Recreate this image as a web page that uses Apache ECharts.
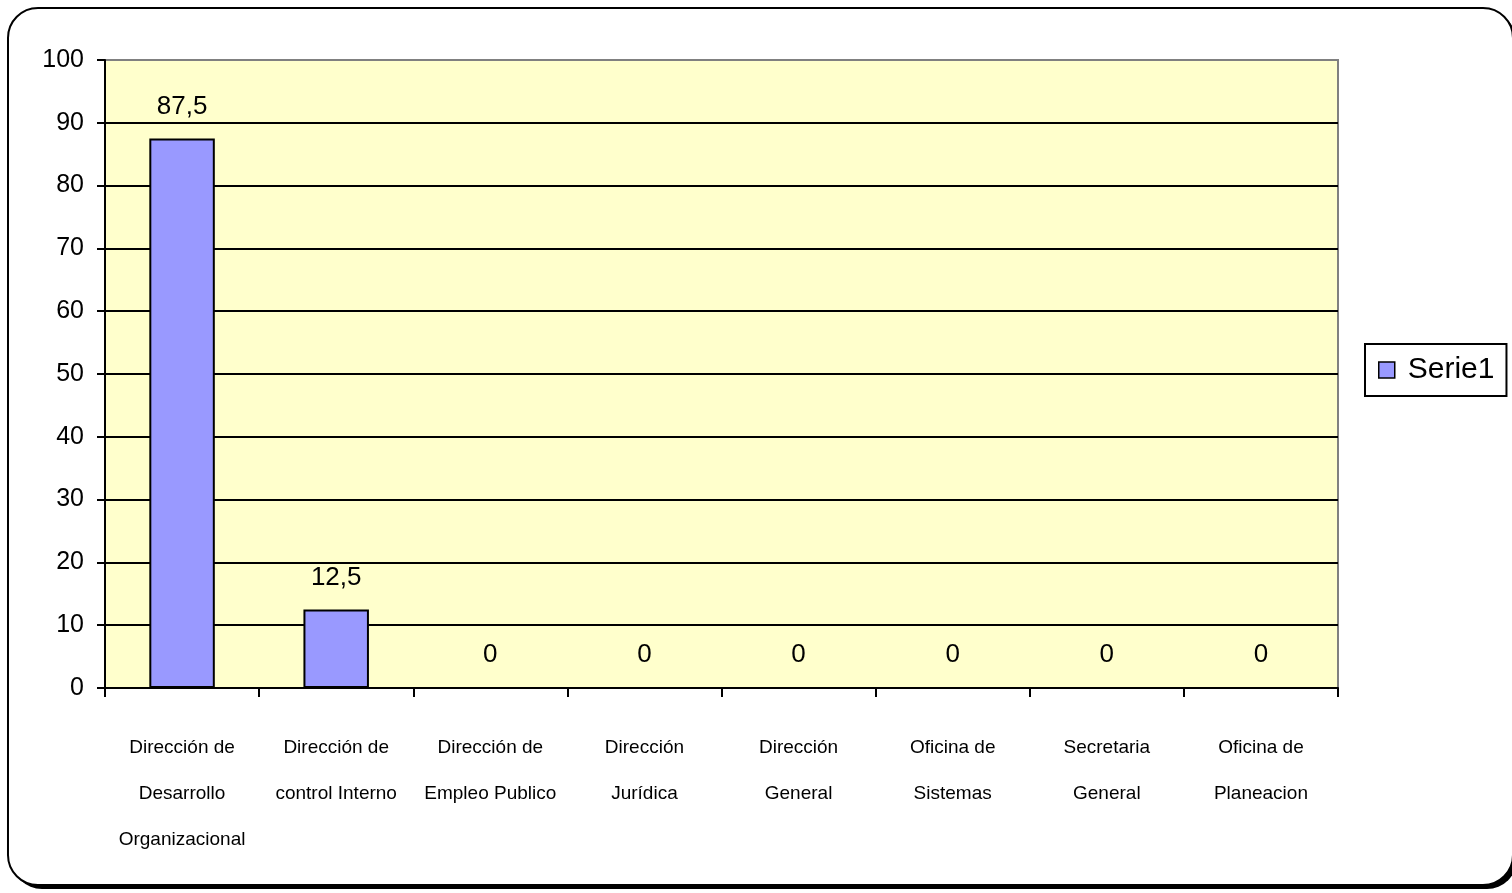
<!DOCTYPE html>
<html>
<head>
<meta charset="utf-8">
<script src="https://cdn.jsdelivr.net/npm/echarts@6/dist/echarts.min.js"></script>
<style>
html,body{margin:0;padding:0;background:#fff;}
#c{width:1512px;height:893px;}
</style>
</head>
<body>
<div id="c"></div>
<script>
const categories = [
  "Dirección de\nDesarrollo\nOrganizacional",
  "Dirección de\ncontrol Interno",
  "Dirección de\nEmpleo Publico",
  "Dirección\nJurídica",
  "Dirección\nGeneral",
  "Oficina de\nSistemas",
  "Secretaria\nGeneral",
  "Oficina de\nPlaneacion"
];
const serie1 = [87.5, 12.5, 0, 0, 0, 0, 0, 0];
const seriesName = "Serie1";

const chart = echarts.init(document.getElementById('c'));
const font = "'Liberation Sans', Arial, sans-serif";
chart.setOption({
  animation: false,
  backgroundColor: 'transparent',
  graphic: [{
    type: 'rect',
    z: -11,
    silent: true,
    shape: {x: 12, y: 12, width: 1505, height: 877, r: 30},
    style: {fill: '#000'}
  }, {
    type: 'rect',
    z: -10,
    silent: true,
    shape: {x: 8, y: 8, width: 1505, height: 877, r: 30},
    style: {fill: '#fff', stroke: '#000', lineWidth: 2}
  }],
  grid: {
    left: 105, right: 174, top: 60, bottom: 205,
    show: true, backgroundColor: '#FFFFCC', borderColor: '#808080', borderWidth: 2
  },
  legend: {
    data: [seriesName],
    orient: 'vertical',
    left: 1365, top: 344,
    padding: [11, 12, 11, 13],
    borderColor: '#000', borderWidth: 2,
    backgroundColor: '#fff',
    icon: 'rect', itemWidth: 16, itemHeight: 16, itemGap: 6,
    itemStyle: {borderColor: '#000', borderWidth: 1.5},
    textStyle: {fontFamily: font, fontSize: 30, color: '#000', padding: [0,0,0,8]}
  },
  xAxis: {
    type: 'category',
    data: categories,
    axisLine: {lineStyle: {color: '#000', width: 2}},
    axisTick: {show: true, length: 9, inside: false, alignWithLabel: false, lineStyle: {color: '#000', width: 2}},
    axisLabel: {fontFamily: font, fontSize: 19, color: '#000', lineHeight: 46, margin: 37, interval: 0}
  },
  yAxis: {
    type: 'value',
    min: 0, max: 100, interval: 10,
    axisLine: {show: true, lineStyle: {color: '#000', width: 2}},
    axisTick: {show: true, length: 8, lineStyle: {color: '#000', width: 2}},
    axisLabel: {fontFamily: font, fontSize: 25, color: '#000', margin: 21},
    splitLine: {show: true, showMaxLine: false, lineStyle: {color: '#000', width: 2}}
  },
  series: [{
    name: seriesName,
    type: 'bar',
    data: serie1,
    barWidth: '42.5%',
    itemStyle: {color: '#9999FF', borderColor: '#000', borderWidth: 2},
    label: {
      show: true, position: 'top', distance: 19,
      fontFamily: font, fontSize: 26, color: '#000',
      formatter: p => String(p.value).replace('.', ',')
    }
  }]
});
</script>
</body>
</html>
